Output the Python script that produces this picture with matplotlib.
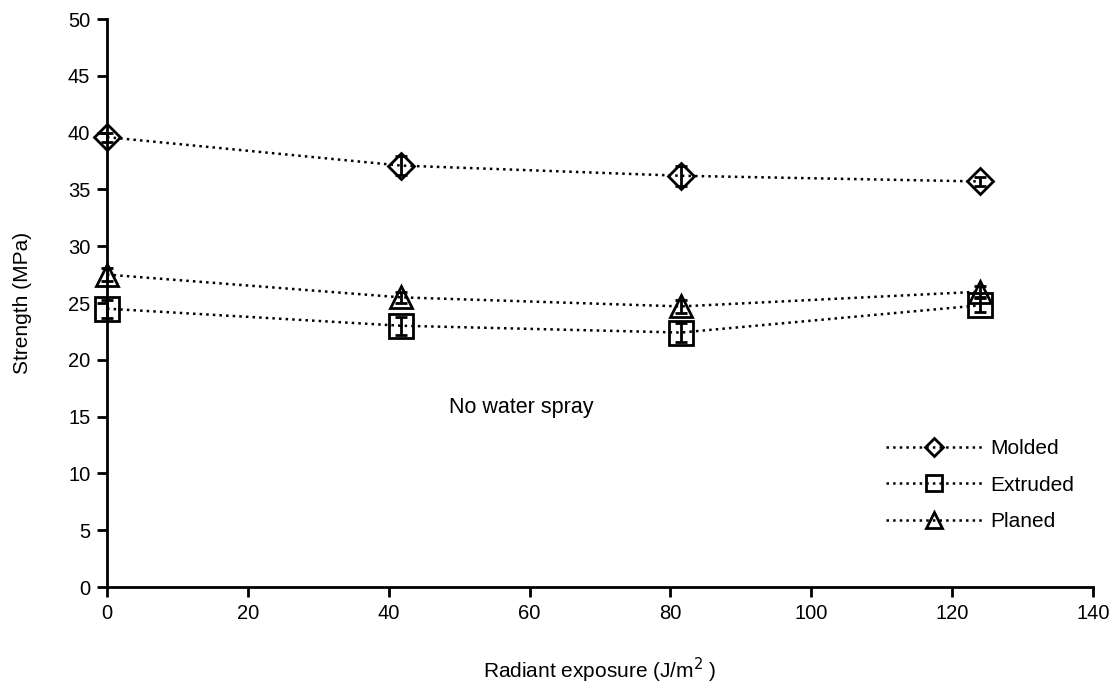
import matplotlib.pyplot as plt

exposure = [0, 41.7, 81.5, 124]
molded = [39.6, 37.1, 36.2, 35.7]
molded_err = [0.4, 0.8, 0.9, 0.4]
extruded = [24.5, 23.0, 22.4, 24.8]
extruded_err = [0.8, 0.8, 0.8, 0.6]
planed = [27.5, 25.5, 24.7, 26.0]
planed_err = [0.6, 0.5, 0.6, 0.5]

plt.rcParams['font.family'] = ['Liberation Sans', 'DejaVu Sans']

fig = plt.figure(figsize=(11.17, 6.91), dpi=100)
ax = fig.add_axes([0.0958, 0.1505, 0.8827, 0.822])

series = [
    ('Molded', molded, molded_err, 'D', 13),
    ('Extruded', extruded, extruded_err, 's', 17),
    ('Planed', planed, planed_err, '^', 16),
]
for name, vals, err, mk, ms in series:
    ax.errorbar(exposure, vals, yerr=err, color='black', linestyle=':', linewidth=1.8,
                marker=mk, markersize=ms, markerfacecolor='none', markeredgewidth=2,
                markeredgecolor='black', ecolor='black', elinewidth=2, capsize=4,
                capthick=2, label=name, clip_on=False, zorder=3)

ax.set_xlim(0, 140)
ax.set_ylim(0, 50)
ax.set_xticks(range(0, 141, 20))
ax.set_yticks(range(0, 51, 5))
for s in ['top', 'right']:
    ax.spines[s].set_visible(False)
for s in ['left', 'bottom']:
    ax.spines[s].set_linewidth(2)
ax.tick_params(direction='out', width=2, length=7, labelsize=14.5, pad=5)

ax.set_xlabel('Radiant exposure (J/m$^2$ )', fontsize=15, labelpad=24)
ax.set_ylabel('Strength (MPa)', fontsize=15, labelpad=26)
ax.text(48.5, 15.8, 'No water spray', fontsize=15.5, va='center')

handles, labels = ax.get_legend_handles_labels()
handles = [h[0] for h in handles]
ax.legend(handles, labels, loc='lower right', bbox_to_anchor=(1.0, 0.065), frameon=False,
          fontsize=15, handlelength=4.6, handletextpad=0.4, labelspacing=0.85,
          markerscale=0.7)

fig.savefig('out.png', dpi=100)
